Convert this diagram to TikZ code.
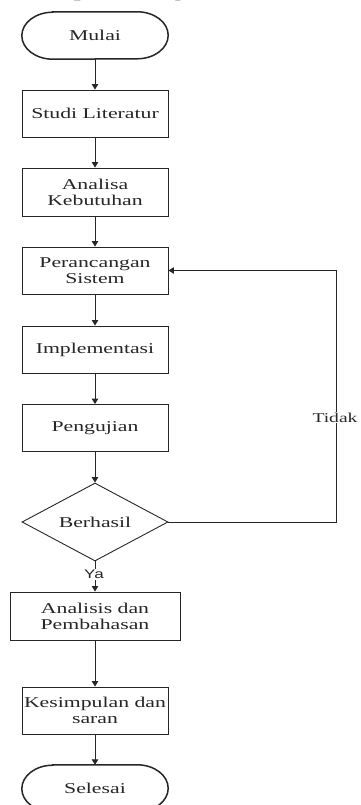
\documentclass[tikz,border=0pt]{standalone}
\usepackage{fontspec}
\setmainfont{Liberation Serif}[FakeStretch=1.45]
\newfontfamily\yafont{Liberation Sans}[FakeStretch=1.36]
\usetikzlibrary{arrows.meta,shapes.geometric}
\definecolor{ink}{HTML}{262626}
\tikzset{
  boxnode/.style={draw=ink, line width=0.9pt, rectangle, minimum width=146pt, minimum height=47pt, inner sep=0pt, align=center, text=ink, font=\fontsize{15}{16}\selectfont},
  termnode/.style={rectangle, draw=none, minimum width=146pt, minimum height=47pt, inner sep=0pt, text=ink, font=\fontsize{15}{16}\selectfont},
  termline/.style={draw=ink, line width=1.5pt},
  decnode/.style={diamond, draw=ink, line width=0.9pt, minimum width=146pt, minimum height=78pt, aspect=1.87, inner sep=0pt, text=ink, font=\fontsize{15}{16}\selectfont},
  flow/.style={draw=ink, line width=0.9pt, -{Triangle[width=6.5pt,length=5.5pt]}},
  lbl/.style={fill=white, inner sep=1pt, text=ink},
}
\newcommand{\stadium}[1]{%
  \draw[termline] ([xshift=31pt]#1.north west) -- ([xshift=-31pt]#1.north east)
    arc[start angle=90, end angle=-90, x radius=31pt, y radius=23.5pt]
    -- ([xshift=31pt]#1.south west)
    arc[start angle=270, end angle=90, x radius=31pt, y radius=23.5pt] -- cycle;}
\begin{document}
\begin{tikzpicture}[x=1pt,y=1pt]
\useasboundingbox (0,0) rectangle (360,-805);
\clip (0,0) rectangle (360,-805);
\fill[white] (0,0) rectangle (360,-805);
% cut-off line of text above the diagram
\node[anchor=base west, inner sep=0pt, text=ink, font=\fontsize{20}{22}\selectfont] (toptext) at (-8,3) {dilihat pada diagram alir di Gambar};
\node[termnode] (start) at (95,-35.5) {Mulai};
\stadium{start}
\node[boxnode] (studi) at (95,-113.5) {Studi Literatur};
\node[boxnode, minimum height=48pt] (analisa) at (95,-192) {Analisa\\Kebutuhan};
\node[boxnode] (peran) at (95,-270.5) {Perancangan\\Sistem};
\node[boxnode] (impl) at (95,-349.5) {Implementasi};
\node[boxnode] (uji) at (95,-428) {Pengujian};
\node[decnode] (dec) at (95,-522) {Berhasil};
\node[boxnode, minimum width=170pt, minimum height=48pt] (bahas) at (95,-616) {Analisis dan\\Pembahasan};
\node[boxnode] (simpul) at (95,-710.5) {Kesimpulan dan\\saran};
\node[termnode] (end) at (95,-788.5) {Selesai};
\stadium{end}
\coordinate (loopc) at (336,-522);
\draw[flow] (start.south) -- (studi.north);
\draw[flow] (studi.south) -- (analisa.north);
\draw[flow] (analisa.south) -- (peran.north);
\draw[flow] (peran.south) -- (impl.north);
\draw[flow] (impl.south) -- (uji.north);
\draw[flow] (uji.south) -- (dec.north);
\draw[flow] (dec.south) -- (bahas.north);
\draw[flow] (bahas.south) -- (simpul.north);
\draw[flow] (simpul.south) -- (end.north);
\draw[flow] (dec.east) -- (loopc) |- (peran.east);
\node[lbl, font=\fontsize{13.5}{15}\selectfont] (tidak) at (335,-417.5) {Tidak};
\node[lbl, font=\yafont\fontsize{12.5}{14}\selectfont] (ya) at (94,-574.5) {Ya};
\end{tikzpicture}
\end{document}
